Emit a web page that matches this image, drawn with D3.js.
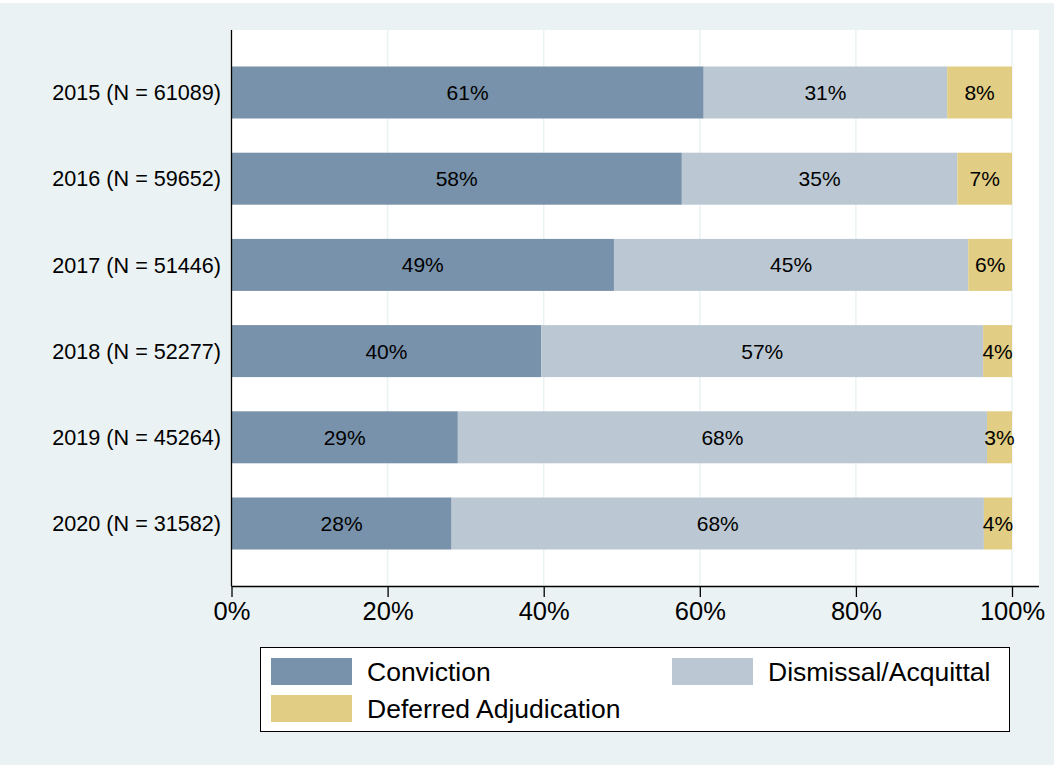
<!DOCTYPE html>
<html>
<head>
<meta charset="utf-8">
<script src="https://cdn.jsdelivr.net/npm/d3@7"></script>
<style>
  html, body { margin: 0; padding: 0; background: #ffffff; }
  svg { display: block; }
  text { font-family: "Liberation Sans", Arial, Helvetica, sans-serif; fill: #000; }
</style>
</head>
<body>
<svg id="chart" width="1054" height="765"></svg>
<script>
// ---- data ----
const categories = ["2015 (N = 61089)", "2016 (N = 59652)", "2017 (N = 51446)",
                    "2018 (N = 52277)", "2019 (N = 45264)", "2020 (N = 31582)"];
const seriesNames = ["Conviction", "Dismissal/Acquittal", "Deferred Adjudication"];
const conviction = [60.5, 57.7, 49.0, 39.7, 29.0, 28.2];
const dismissal  = [31.2, 35.3, 45.4, 56.6, 67.8, 68.2];
const deferred   = [8.3, 7.0, 5.6, 3.7, 3.2, 3.6];
const xTicks = [0, 20, 40, 60, 80, 100];
const colors = ["#7892ab", "#bbc8d3", "#e1cd83"];

// ---- layout ----
const W = 1054, H = 765;
const plot = { left: 232, right: 1039, top: 30, bottom: 586 };
const svg = d3.select("#chart");

svg.append("rect").attr("x", 0).attr("y", 3).attr("width", W).attr("height", H - 3)
  .attr("fill", "#eaf2f3");
svg.append("rect").attr("x", plot.left).attr("y", plot.top)
  .attr("width", plot.right - plot.left).attr("height", plot.bottom - plot.top)
  .attr("fill", "#ffffff");

const x = d3.scaleLinear().domain([0, 100]).range([231.5, 1012]);
const y = d3.scalePoint().domain(categories).range([plot.top, plot.bottom]).padding(0.725);
const barH = 52;

// gridlines
svg.append("g").selectAll("line").data(xTicks.slice(1)).join("line")
  .attr("x1", d => x(d)).attr("x2", d => x(d))
  .attr("y1", plot.top).attr("y2", plot.bottom)
  .attr("stroke", "#eaf2f3").attr("stroke-width", 1.5);

// stacked data
const rows = categories.map((c, i) => ({ cat: c, vals: [conviction[i], dismissal[i], deferred[i]] }));
const segs = [];
rows.forEach(r => {
  let cum = 0;
  r.vals.forEach((v, k) => { segs.push({ cat: r.cat, k, x0: cum, x1: cum + v, v }); cum += v; });
});

svg.append("g").selectAll("rect").data(segs).join("rect")
  .attr("x", d => x(d.x0)).attr("width", d => x(d.x1) - x(d.x0))
  .attr("y", d => y(d.cat) - barH / 2).attr("height", barH)
  .attr("fill", d => colors[d.k]);

svg.append("g").selectAll("text").data(segs).join("text")
  .attr("x", d => (x(d.x0) + x(d.x1)) / 2)
  .attr("y", d => y(d.cat))
  .attr("dy", "0.36em")
  .attr("text-anchor", "middle")
  .attr("font-size", 21)
  .text(d => Math.round(d.v) + "%");

// y axis
svg.append("line").attr("x1", 231.5).attr("x2", 231.5).attr("y1", plot.top).attr("y2", plot.bottom)
  .attr("stroke", "#000").attr("stroke-width", 1.3);
svg.append("g").selectAll("text").data(categories).join("text")
  .attr("x", 221).attr("y", d => y(d)).attr("dy", "0.36em")
  .attr("text-anchor", "end").attr("font-size", 21.6).text(d => d);

// x axis
const xAxis = svg.append("g").attr("transform", `translate(0,${plot.bottom})`)
  .call(d3.axisBottom(x).tickValues(xTicks).tickFormat(d => d + "%").tickSize(11).tickPadding(5));
xAxis.select(".domain").attr("d", `M${231}.5,0.5H${plot.right}`).attr("stroke", "#000").attr("stroke-width", 1.3);
xAxis.selectAll(".tick line").attr("stroke", "#000").attr("stroke-width", 1.3);
xAxis.selectAll(".tick text").attr("font-size", 25.5)
  .attr("font-family", "'Liberation Sans', Arial, Helvetica, sans-serif").attr("fill", "#000");

// legend
const lg = svg.append("g");
lg.append("rect").attr("x", 260.5).attr("y", 647.5).attr("width", 749).attr("height", 84)
  .attr("fill", "#fff").attr("stroke", "#000").attr("stroke-width", 1);
const legendPos = [
  { sx: 271, sy: 658, tx: 367 },
  { sx: 672, sy: 658, tx: 768 },
  { sx: 271, sy: 695, tx: 367 }
];
seriesNames.forEach((name, i) => {
  const p = legendPos[i];
  lg.append("rect").attr("x", p.sx).attr("y", p.sy).attr("width", 81).attr("height", 27)
    .attr("fill", colors[i]);
  lg.append("text").attr("x", p.tx).attr("y", p.sy + 13.5).attr("dy", "0.36em")
    .attr("font-size", 26.5).text(name);
});
</script>
</body>
</html>
